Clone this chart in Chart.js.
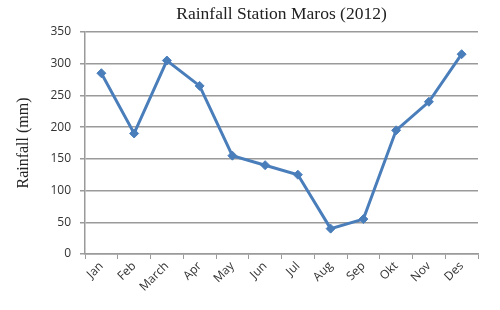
<!DOCTYPE html>
<html>
<head>
<meta charset="utf-8">
<script src="https://cdn.jsdelivr.net/npm/chart.js@4/dist/chart.umd.min.js"></script>
<style>
  html, body { margin: 0; padding: 0; background: #fff; }
  #wrap { position: relative; width: 500px; height: 310px; }
</style>
</head>
<body>
<div id="wrap"><canvas id="chartcontainer"></canvas></div>
<script>
var months = ["Jan", "Feb", "March", "Apr", "May", "Jun", "Jul", "Aug", "Sep", "Okt", "Nov", "Des"];
var rainfall = [285, 190, 305, 265, 155, 140, 125, 40, 55, 195, 240, 315];
var yTicks = [0, 50, 100, 150, 200, 250, 300, 350];

var gridColor = "#9a9a9a";
var lineColor = "#4a7ebb";

// titre centré sur la zone du graphique (comme dans Excel)
var titlePlugin = {
  id: "plotTitle",
  afterDraw: function(chart) {
    var ctx = chart.ctx;
    var area = chart.chartArea;
    ctx.save();
    ctx.font = "17.5px 'Liberation Serif'";
    ctx.fillStyle = "#222";
    ctx.textAlign = "center";
    ctx.textBaseline = "middle";
    ctx.fillText("Rainfall Station Maros (2012)", (area.left + area.right) / 2, 14);
    ctx.restore();
  }
};

var ctx = document.getElementById("chartcontainer").getContext("2d");
var chart = new Chart(ctx, {
  type: "line",
  data: {
    labels: months,
    datasets: [{
      data: rainfall,
      borderColor: lineColor,
      backgroundColor: lineColor,
      borderWidth: 3,
      pointStyle: "rectRot",
      pointRadius: 4.5,
      pointBorderWidth: 1,
      tension: 0
    }]
  },
  options: {
    responsive: true,
    maintainAspectRatio: false,
    animation: false,
    layout: { padding: { top: 32, right: 22, left: 0, bottom: 0 } },
    plugins: {
      legend: { display: false },
      title: { display: false },
      tooltip: { enabled: false }
    },
    scales: {
      x: {
        offset: true,
        grid: {
          offset: true,
          drawOnChartArea: false,
          color: gridColor,
          tickLength: 5
        },
        border: { color: gridColor, width: 1.5 },
        ticks: {
          minRotation: 45,
          maxRotation: 45,
          padding: 0,
          color: "#333",
          font: { family: "'Open Sans'", size: 12 }
        },
        afterFit: function(scale) { scale.height = 56; }
      },
      y: {
        min: 0,
        max: 350,
        afterBuildTicks: function(scale) {
          scale.ticks = yTicks.map(function(v) { return { value: v }; });
        },
        grid: {
          color: gridColor,
          lineWidth: 1.5,
          tickLength: 5
        },
        border: { color: gridColor, width: 1.5 },
        ticks: {
          padding: 9,
          color: "#333",
          font: { family: "'Open Sans'", size: 12 }
        },
        title: {
          display: true,
          text: "Rainfall (mm)",
          color: "#222",
          font: { family: "'Liberation Serif'", size: 16 },
          padding: { top: 14, bottom: 0 }
        },
        afterFit: function(scale) { scale.width = 85; }
      }
    }
  },
  plugins: [titlePlugin]
});
</script>
</body>
</html>
